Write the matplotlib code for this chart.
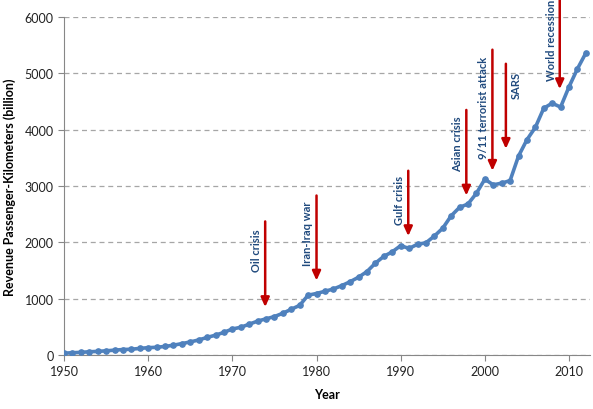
import matplotlib
matplotlib.use("Agg")
import matplotlib.pyplot as plt

plt.rcParams['font.family'] = ['Lato', 'DejaVu Sans']

years = list(range(1950, 2013))
rpk = [30, 38, 45, 55, 62, 72, 84, 95, 100, 115,
       128, 135, 150, 172, 200, 230, 265, 310, 350, 400,
       460, 490, 545, 600, 640, 680, 740, 810, 880, 1060,
       1090, 1130, 1170, 1230, 1300, 1380, 1480, 1630, 1750, 1830,
       1940, 1890, 1965, 1990, 2110, 2250, 2470, 2620, 2680, 2870,
       3120, 3020, 3050, 3095, 3530, 3820, 4040, 4380, 4470, 4400,
       4760, 5080, 5360]

# events: label, arrow x, arrow top, arrow tip, label x, label bottom
event_names = ['Oil crisis', 'Iran-Iraq war', 'Gulf crisis', 'Asian crisis',
               '9/11 terrorist attack', 'SARS', 'World recession']
event_x = [1973.9, 1980.0, 1990.9, 1997.8, 2000.9, 2002.5, 2008.9]
arrow_top = [2370, 2830, 3270, 4350, 5420, 5170, 6350]
arrow_tip = [850, 1320, 2110, 2830, 3270, 3660, 4720]
label_x = [1972.9, 1978.9, 1989.9, 1996.7, 1999.9, 2003.7, 2007.9]
label_y = [1490, 1600, 2330, 3270, 3500, 4560, 4880]

fig = plt.figure(figsize=(5.93, 4.10), dpi=100)
ax = fig.add_axes([0.108, 0.132, 0.887, 0.824])

ax.plot(years, rpk, color='#4F81BD', lw=2.6, marker='o', markersize=3.8,
        zorder=3)

for name, x, top, tip, lx, ly in zip(event_names, event_x, arrow_top,
                                     arrow_tip, label_x, label_y):
    ax.annotate('', xy=(x, tip), xytext=(x, top),
                arrowprops=dict(arrowstyle='-|>,head_length=0.55,head_width=0.25',
                                color='#C00000', lw=1.8, shrinkA=0, shrinkB=0),
                annotation_clip=False, zorder=4)
    ax.text(lx, ly, name, rotation=90, ha='center', va='bottom',
            color='#1F497D', fontsize=8, fontweight='bold', clip_on=False)

ax.set_xlim(1950, 2012.5)
ax.set_ylim(0, 6000)
ax.set_xticks([1950, 1960, 1970, 1980, 1990, 2000, 2010])
ax.set_yticks([0, 1000, 2000, 3000, 4000, 5000, 6000])
ax.yaxis.grid(True, linestyle=(0, (4, 3)), color='#A6A6A6', lw=0.9)
ax.set_axisbelow(True)

for side in ['top', 'right']:
    ax.spines[side].set_visible(False)
for side in ['left', 'bottom']:
    ax.spines[side].set_color('#878787')
ax.tick_params(colors='#878787', labelcolor='#222222', labelsize=9,
               direction='out', length=4)

ax.set_xlabel('Year', fontsize=9, fontweight='bold', labelpad=8)
ax.set_ylabel('Revenue Passenger-Kilometers (billion)', fontsize=9,
              fontweight='bold', labelpad=6)

fig.savefig('out.png', dpi=100)
